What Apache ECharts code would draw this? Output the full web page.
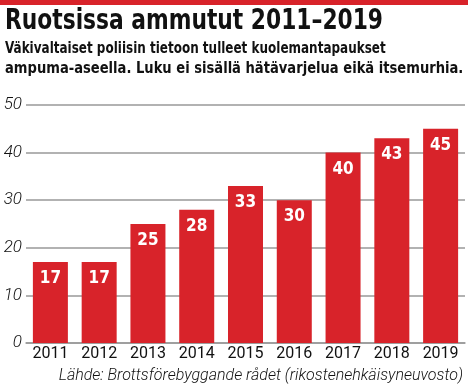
<!DOCTYPE html>
<html><head><meta charset="utf-8">
<script src="https://cdn.jsdelivr.net/npm/echarts@6/dist/echarts.min.js"></script>
<style>html,body{margin:0;padding:0;background:#fff}#c{width:468px;height:389px}</style>
</head><body><div id="c"></div>
<script>
const years = ['2011','2012','2013','2014','2015','2016','2017','2018','2019'];
const killed = [17,17,25,28,33,30,40,43,45];
const yTicks = [0,10,20,30,40,50];
const titleText = 'Ruotsissa ammutut 2011–2019';
const subtitleLine1 = 'Väkivaltaiset poliisin tietoon tulleet kuolemantapaukset';
const subtitleLine2 = 'ampuma-aseella. Luku ei sisällä hätävarjelua eikä itsemurhia.';
const sourceText = 'Lähde: Brottsförebyggande rådet (rikostenehkäisyneuvosto)';

const chart = echarts.init(document.getElementById('c'), null, {renderer:'canvas'});
chart.setOption({
  animation:false,
  graphic:[
    {type:'rect', left:0, top:0, shape:{width:468, height:5}, style:{fill:'#d8232a'}},
    {type:'text', x:5, y:7, scaleX:0.835, style:{text:titleText, fontFamily:'DejaVu Sans Condensed', fontWeight:'bold', fontSize:29, fill:'#111'}},
    {type:'text', x:5, y:41, scaleX:0.86, style:{text:subtitleLine1, fontFamily:'DejaVu Sans Condensed', fontWeight:'bold', fontSize:15.5, fill:'#111'}},
    {type:'text', x:5, y:61, scaleX:0.94, style:{text:subtitleLine2, fontFamily:'DejaVu Sans Condensed', fontWeight:'bold', fontSize:15.5, fill:'#111'}},
    {type:'text', x:463, y:368, style:{text:sourceText, align:'right', fontFamily:'Roboto', fontStyle:'italic', fontWeight:300, fontSize:16, fill:'#111'}}
  ],
  grid:{left:26, right:3, top:105, bottom:46},
  xAxis:{type:'category', data:years,
    axisLine:{show:true, lineStyle:{color:'#999', width:1.5}}, axisTick:{show:false},
    axisLabel:{fontFamily:'Roboto', fontSize:16, color:'#111', margin:3}},
  yAxis:{type:'value', min:0, max:50, interval:10,
    axisLine:{show:false}, axisTick:{show:false},
    splitLine:{lineStyle:{color:'#999', width:1.5}},
    axisLabel:{fontFamily:'Roboto', fontStyle:'italic', fontWeight:300, fontSize:17, color:'#111', margin:4,
      formatter:v=>yTicks.includes(v)?String(v):''}},
  series:[{type:'bar', data:killed, barWidth:35, itemStyle:{color:'#d8232a'},
    label:{show:true, position:'insideTop', distance:8, color:'#fff', fontFamily:'DejaVu Sans Condensed', fontWeight:'bold', fontSize:17}}]
});
</script></body></html>
